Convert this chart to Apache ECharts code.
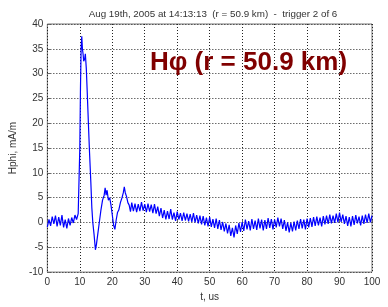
<!DOCTYPE html>
<html>
<head>
<meta charset="utf-8">
<script src="https://cdn.jsdelivr.net/npm/echarts@6/dist/echarts.min.js"></script>
<style>
  html, body { margin: 0; padding: 0; background: #fff; }
  #chart { width: 388px; height: 307px; }
</style>
</head>
<body>
<div id="chart"></div>
<script>
// values: [t (us), Hphi (mA/m)]
const samples = [
  [0, -0.9], [0.5, 0.6], [1, -0.7], [1.5, 1.2], [2, -0.3], [2.5, 1.4], [3, -0.8], [3.5, 1.1],
  [4, -0.6], [4.5, 1.5], [5, -1.0], [5.5, 0.6], [6, -1.2], [6.5, 0.8], [7, -0.6], [7.5, 1.0],
  [8, -0.1], [8.5, 1.5], [9, 0.6], [9.5, 1.8], [9.8, 2.2], [10, 15], [10.2, 27], [10.4, 35],
  [10.6, 37.5], [10.8, 35], [11, 34], [11.2, 32.5], [11.5, 33], [11.7, 34], [12, 31], [12.3, 26],
  [12.7, 19], [13, 14], [13.4, 8], [13.7, 3], [14, 0], [14.4, -2.5], [14.8, -5.5], [15.1, -4.5],
  [15.5, -2.5], [16, 0], [16.5, 2.5], [17, 4.5], [17.5, 5.5], [17.8, 7], [18.1, 5.5], [18.4, 6.5],
  [18.8, 4.5], [19.2, 5], [19.6, 3.5], [20, 1.5], [20.4, -0.5], [20.8, -1.4], [21.2, 0.5], [21.6, 2],
  [22, 2.5], [22.5, 4], [23, 5], [23.4, 6], [23.7, 7.2], [24, 6], [24.4, 5.2], [24.8, 4],
  [25.2, 3.5], [25.6, 2.2], [26, 4.0], [26.5, 2.3], [27, 3.8], [27.5, 2.1], [28, 3.7], [28.5, 2.3],
  [29, 4.1], [29.5, 2.4], [30, 3.7], [30.5, 2.1], [31, 3.8], [31.5, 2.2], [32, 3.6], [32.5, 1.9],
  [33, 3.7], [33.5, 1.8], [34, 3.2], [34.5, 1.3], [35, 2.9], [35.5, 0.9], [36, 2.5], [36.5, 0.6],
  [37, 2.3], [37.5, 0.7], [38, 2.7], [38.5, 0.6], [39, 2.0], [39.5, 0.3], [40, 2.2], [40.5, 0.6],
  [41, 1.9], [41.5, 0.3], [42, 2.0], [42.5, 0.4], [43, 1.8], [43.5, 0.2], [44, 1.7], [44.5, 0.1],
  [45, 1.9], [45.5, 0.0], [46, 1.5], [46.5, -0.2], [47, 1.4], [47.5, -0.4], [48, 1.3], [48.5, -0.6],
  [49, 1.0], [49.5, -0.8], [50, 1.1], [50.5, -0.9], [51, 0.7], [51.5, -1.1], [52, 0.8], [52.5, -1.3],
  [53, 0.5], [53.5, -1.5], [54, 0.1], [54.5, -1.8], [55, -0.2], [55.5, -2.2], [56, -0.5], [56.5, -2.7],
  [57, -1.1], [57.5, -3.0], [58, -0.6], [58.5, -2.3], [59, -0.1], [59.5, -1.9], [60, 0.1], [60.5, -1.7],
  [61, 0.6], [61.5, -1.4], [62, 0.3], [62.5, -1.6], [63, 0.7], [63.5, -1.3], [64, 0.4], [64.5, -1.5],
  [65, 0.8], [65.5, -1.2], [66, 0.6], [66.5, -1.6], [67, 0.5], [67.5, -1.3], [68, 0.9], [68.5, -1.1],
  [69, 0.7], [69.5, -1.4], [70, 0.6], [70.5, -1.0], [71, 1.0], [71.5, -0.8], [72, 0.8], [72.5, -1.3],
  [73, 0.5], [73.5, -1.7], [74, 0.0], [74.5, -2.0], [75, -0.1], [75.5, -1.8], [76, 0.2], [76.5, -1.6],
  [77, 0.4], [77.5, -1.3], [78, 0.7], [78.5, -1.2], [79, 0.6], [79.5, -1.4], [80, 0.8], [80.5, -1.0],
  [81, 0.9], [81.5, -0.9], [82, 1.1], [82.5, -0.7], [83, 1.2], [83.5, -0.6], [84, 1.0], [84.5, -0.8],
  [85, 1.3], [85.5, -0.4], [86, 1.4], [86.5, -0.3], [87, 1.6], [87.5, -0.2], [88, 1.4], [88.5, -0.1],
  [89, 1.8], [89.5, 0.0], [90, 2.0], [90.5, 0.1], [91, 1.6], [91.5, -0.3], [92, 1.3], [92.5, -0.7],
  [93, 1.1], [93.5, -0.8], [94, 1.3], [94.5, -0.5], [95, 1.5], [95.5, -0.2], [96, 1.2], [96.5, -0.6],
  [97, 1.4], [97.5, -0.3], [98, 1.6], [98.5, -0.1], [99, 1.8], [99.5, 0.0], [100, 1.4],
]

const titleText = 'Aug 19th, 2005 at 14:13:13  (r = 50.9 km)  -  trigger 2 of 6'
const bigLabel = 'Hφ (r = 50.9 km)'
const xName = 't, us'
const yName = 'Hphi, mA/m'

const chart = echarts.init(document.getElementById('chart'))
const font = '"Liberation Sans", Arial, sans-serif'

chart.setOption({
  animation: false,
  backgroundColor: '#fff',
  title: {
    text: titleText,
    left: 208,
    top: 4,
    textAlign: 'center',
    textStyle: { fontSize: 9.8, fontWeight: 'normal', color: '#333', fontFamily: font },
  },
  grid: {
    left: 47, right: 16, top: 24, bottom: 28,
    show: true, borderColor: '#777', borderWidth: 1, backgroundColor: '#fff',
  },
  xAxis: {
    type: 'value',
    min: 0, max: 100, interval: 10,
    name: xName,
    nameLocation: 'middle',
    nameGap: 18,
    nameTextStyle: { fontSize: 10, color: '#333', fontFamily: font },
    axisLine: { show: false },
    axisTick: { inside: true, length: 3, lineStyle: { color: '#666' } },
    axisLabel: { fontSize: 10, color: '#333', margin: 5, fontFamily: font },
    splitLine: { show: true, lineStyle: { type: [1, 2], color: '#222', width: 1 } },
  },
  yAxis: {
    type: 'value',
    min: -10, max: 40, interval: 5,
    name: yName,
    nameLocation: 'middle',
    nameGap: 24,
    nameTextStyle: { fontSize: 10, color: '#333', fontFamily: font },
    axisLine: { show: false },
    axisTick: { inside: true, length: 3, lineStyle: { color: '#666' } },
    axisLabel: { fontSize: 10, color: '#333', margin: 4, fontFamily: font },
    splitLine: { show: true, lineStyle: { type: [1, 2], color: '#222', width: 1 } },
  },
  graphic: [{
    type: 'text',
    left: 150,
    top: 50,
    style: {
      text: bigLabel,
      fill: '#800000',
      font: 'bold 26px ' + font,
    },
    z: 10,
  }],
  series: [{
    type: 'line',
    data: samples,
    showSymbol: false,
    lineStyle: { color: '#0000ff', width: 1.2 },
    z: 5,
  }],
})
</script>
</body>
</html>
